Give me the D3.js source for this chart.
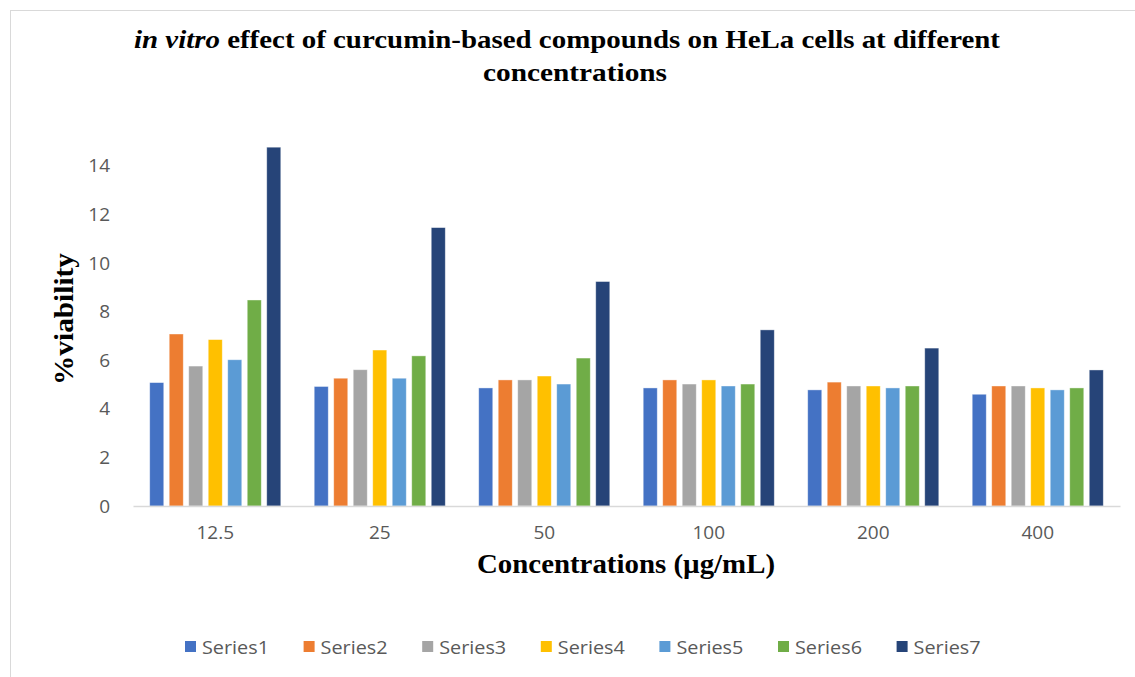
<!DOCTYPE html>
<html>
<head>
<meta charset="utf-8">
<script src="https://cdn.jsdelivr.net/npm/d3@7"></script>
<style>
  body { margin: 0; background: #fff; }
  svg { display: block; }
</style>
</head>
<body>
<div id="chart"></div>
<script>
const concentrations = ["12.5", "25", "50", "100", "200", "400"];
const seriesNames = ["Series1", "Series2", "Series3", "Series4", "Series5", "Series6", "Series7"];
const seriesColors = ["#4472C4", "#ED7D31", "#A5A5A5", "#FFC000", "#5B9BD5", "#70AD47", "#264478"];
const yTicks = [0, 2, 4, 6, 8, 10, 12, 14];

// one row per series, one value per concentration
const series1 = [5.08, 4.92, 4.86, 4.86, 4.78, 4.60];
const series2 = [7.08, 5.26, 5.19, 5.19, 5.10, 4.94];
const series3 = [5.76, 5.61, 5.19, 5.02, 4.94, 4.94];
const series4 = [6.85, 6.42, 5.35, 5.19, 4.94, 4.86];
const series5 = [6.02, 5.26, 5.02, 4.94, 4.86, 4.78];
const series6 = [8.48, 6.18, 6.09, 5.02, 4.94, 4.86];
const series7 = [14.77, 11.46, 9.24, 7.25, 6.50, 5.60];
const allSeries = [series1, series2, series3, series4, series5, series6, series7];

const W = 1135, H = 677;
const plot = { left: 133, right: 1120, top: 141.6, bottom: 506 };

const svg = d3.select("#chart").append("svg")
    .attr("width", W)
    .attr("height", H);

// outer chart frame (only top/left visible in the picture)
svg.append("rect")
    .attr("x", 10.5).attr("y", 10.5)
    .attr("width", W + 20).attr("height", H + 20)
    .attr("fill", "none")
    .attr("stroke", "#d9d9d9");

// scales
const x0 = d3.scaleBand()
    .domain(concentrations)
    .range([plot.left, plot.right])
    .paddingInner(0.17)
    .paddingOuter(0.085);

const x1 = d3.scaleBand()
    .domain(seriesNames)
    .range([0, x0.bandwidth()])
    .paddingInner(0.28)
    .paddingOuter(0.14);

const y = d3.scaleLinear()
    .domain([0, 15])
    .range([plot.bottom, plot.top]);

// bars
const groups = svg.append("g").selectAll("g")
    .data(concentrations)
    .join("g")
    .attr("transform", d => `translate(${x0(d)},0)`);

groups.selectAll("rect")
    .data((c, i) => seriesNames.map((s, k) => ({ s: s, k: k, v: allSeries[k][i] })))
    .join("rect")
    .attr("x", d => x1(d.s))
    .attr("y", d => y(d.v))
    .attr("width", x1.bandwidth())
    .attr("height", d => y(0) - y(d.v))
    .attr("fill", d => seriesColors[d.k])
    .attr("stroke", "#fff")
    .attr("stroke-opacity", 0.5)
    .attr("stroke-width", 0.8);

// x axis
const xAxis = svg.append("g")
    .attr("transform", `translate(0,${plot.bottom})`)
    .call(d3.axisBottom(x0).tickSize(0).tickSizeOuter(0).tickPadding(20));
xAxis.select(".domain").attr("stroke", "#d9d9d9").attr("stroke-width", 1.5);
xAxis.selectAll("text")
    .style("font-family", "Open Sans, sans-serif")
    .style("font-size", "19px")
    .attr("fill", "#595959");

// y axis (no line)
const yAxis = svg.append("g")
    .attr("transform", `translate(${plot.left},0)`)
    .call(d3.axisLeft(y).tickValues(yTicks).tickSize(0).tickPadding(23));
yAxis.select(".domain").remove();
yAxis.selectAll("text")
    .style("font-family", "Open Sans, sans-serif")
    .style("font-size", "19px")
    .attr("fill", "#595959");

// title (the picture is slightly stretched horizontally, so fix widths)
const title = svg.append("text")
    .attr("x", 134)
    .attr("y", 48)
    .attr("textLength", 866)
    .attr("lengthAdjust", "spacingAndGlyphs")
    .style("font-family", "Liberation Serif, serif")
    .style("font-weight", "bold")
    .style("font-size", "26px")
    .attr("fill", "#000");
title.append("tspan").style("font-style", "italic").text("in vitro");
title.append("tspan").text(" effect of curcumin-based compounds on HeLa cells at different");

svg.append("text")
    .attr("x", 483)
    .attr("y", 81)
    .attr("textLength", 184)
    .attr("lengthAdjust", "spacingAndGlyphs")
    .style("font-family", "Liberation Serif, serif")
    .style("font-weight", "bold")
    .style("font-size", "26px")
    .text("concentrations");

// axis titles
svg.append("text")
    .attr("transform", `translate(73,385) rotate(-90)`)
    .attr("textLength", 132)
    .attr("lengthAdjust", "spacingAndGlyphs")
    .style("font-family", "Liberation Serif, serif")
    .style("font-weight", "bold")
    .style("font-size", "27px")
    .text("%viability");

svg.append("text")
    .attr("x", 477)
    .attr("y", 573)
    .attr("textLength", 298)
    .attr("lengthAdjust", "spacingAndGlyphs")
    .style("font-family", "Liberation Serif, serif")
    .style("font-weight", "bold")
    .style("font-size", "27px")
    .text("Concentrations (µg/mL)");

// legend
const legend = svg.append("g").selectAll("g")
    .data(seriesNames)
    .join("g")
    .attr("transform", (d, i) => `translate(${185 + i * 118.6},646)`);

legend.append("rect")
    .attr("x", 0).attr("y", -5)
    .attr("width", 11).attr("height", 11)
    .attr("fill", (d, i) => seriesColors[i]);

legend.append("text")
    .attr("x", 17)
    .attr("y", 8)
    .attr("textLength", 67)
    .attr("lengthAdjust", "spacingAndGlyphs")
    .style("font-family", "Open Sans, sans-serif")
    .style("font-size", "18px")
    .attr("fill", "#595959")
    .text(d => d);
</script>
</body>
</html>
